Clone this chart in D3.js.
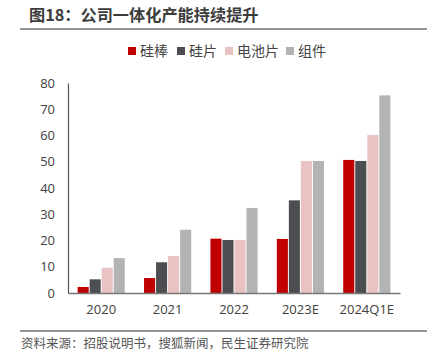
<!DOCTYPE html>
<html><head><meta charset="utf-8">
<script src="https://cdn.jsdelivr.net/npm/d3@7/dist/d3.min.js"></script>
<style>body{margin:0;background:#fff;} svg{display:block;}</style>
</head><body>
<svg id="c" width="433" height="353"></svg>
<script>
const categories = ["2020","2021","2022","2023E","2024Q1E"];
const seriesNames = ["硅棒","硅片","电池片","组件"];
const siRod = [2.3, 5.7, 20.7, 20.6, 50.7];
const wafer = [5.2, 11.7, 20.2, 35.3, 50.3];
const cell = [9.6, 14.1, 20.2, 50.3, 60.2];
const module_ = [13.3, 24.1, 32.4, 50.3, 75.3];
const yTicks = [0,10,20,30,40,50,60,70,80];
const colors = ["#C00000","#4D4E52","#EBC2C3","#B3B3B3"];
const series = [siRod, wafer, cell, module_];
const font = "'Noto Sans CJK SC','Noto Sans',sans-serif";

const svg = d3.select("#c");
svg.append("text").attr("x",29).attr("y",21).attr("font-family",font).attr("font-size",16.2)
  .attr("font-weight","bold").attr("fill","#3c3c3c").text("图18：公司一体化产能持续提升");
svg.append("line").attr("x1",20).attr("x2",427).attr("y1",29).attr("y2",29).attr("stroke","#707070").attr("stroke-width",1.5);

const x0 = d3.scaleBand().domain(categories).range([68,400]).paddingInner(0.29).paddingOuter(0.145);
const x1 = d3.scaleBand().domain(d3.range(4)).range([0,x0.bandwidth()]).paddingInner(0.08);
const y = d3.scaleLinear().domain([0,80]).range([293,83]);

// legend
const lg = [ {x:128,t:140},{x:177,t:189},{x:225,t:237},{x:286,t:298} ];
seriesNames.forEach((n,i)=>{
  svg.append("rect").attr("x",lg[i].x).attr("y",47).attr("width",8).attr("height",8).attr("fill",colors[i]);
  svg.append("text").attr("x",lg[i].t).attr("y",56).attr("font-family",font).attr("font-size",14).attr("fill","#444").text(n);
});

// bars
const g = svg.append("g");
categories.forEach((c,ci)=>{
  series.forEach((s,si)=>{
    g.append("rect").attr("x",x0(c)+x1(si)).attr("y",y(s[ci])).attr("width",x1.bandwidth())
     .attr("height",y(0)-y(s[ci])).attr("fill",colors[si]);
  });
});

// y axis
const ya = svg.append("g").attr("transform","translate(68,0)").call(d3.axisLeft(y).tickValues(yTicks).tickSize(0).tickPadding(13));
ya.select(".domain").attr("stroke","#555").attr("stroke-width",1.2);
ya.selectAll("text").attr("font-family","'Open Sans','Noto Sans',sans-serif").attr("font-size",13).attr("fill","#404040");

// x axis
const xa = svg.append("g").attr("transform","translate(0,293)").call(d3.axisBottom(x0).tickSize(0).tickPadding(12));
xa.select(".domain").attr("stroke","#777").attr("stroke-width",1.5);
xa.selectAll("text").attr("font-family","'Open Sans','Noto Sans',sans-serif").attr("font-size",13).attr("fill","#404040");

svg.append("line").attr("x1",20).attr("x2",427).attr("y1",331).attr("y2",331).attr("stroke","#707070").attr("stroke-width",1.5);
svg.append("text").attr("x",21).attr("y",348).attr("font-family",font).attr("font-size",12.5).attr("fill","#555")
  .text("资料来源：招股说明书，搜狐新闻，民生证券研究院");
</script>
</body></html>
